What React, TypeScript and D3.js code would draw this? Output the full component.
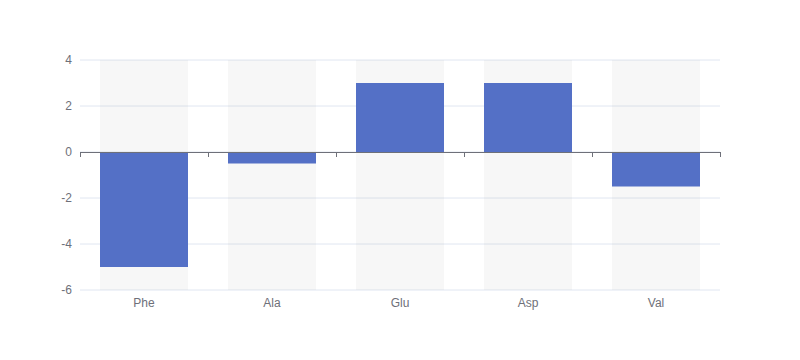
import React from "react";
import * as d3 from "d3";

const categories = ["Phe", "Ala", "Glu", "Asp", "Val"];
const values = [-5, -0.5, 3, 3, -1.5];
const yTicks = [-6, -4, -2, 0, 2, 4];

export default function App() {
  const W = 800, H = 360;
  const left = 80, right = 720, top = 60, bottom = 290;
  const x = d3.scaleBand<string>().domain(categories).range([left, right])
    .paddingInner(40 / 128).paddingOuter(20 / 128);
  const y = d3.scaleLinear().domain([-6, 4]).range([bottom, top]);
  const step = x.step();
  const tickXs = d3.range(categories.length + 1).map(i => left + i * step);
  const font = "sans-serif";
  return (
    <svg width={W} height={H} style={{ position: "absolute", left: 0, top: 0 }}>
      {yTicks.map(t => (
        <line key={"g" + t} x1={left} x2={right} y1={y(t)} y2={y(t)} stroke="#E0E6F1" strokeWidth={1} />
      ))}
      {categories.map(c => (
        <rect key={"bg" + c} x={x(c)} y={top} width={x.bandwidth()} height={bottom - top} fill="rgba(180,180,180,0.1)" />
      ))}
      {categories.map((c, i) => {
        const v = values[i];
        const y0 = y(0), y1 = y(v);
        return (
          <rect key={"b" + c} x={x(c)} y={Math.min(y0, y1)} width={x.bandwidth()} height={Math.abs(y1 - y0)} fill="#5470c6" />
        );
      })}
      <line x1={left} x2={right} y1={y(0) + 0.5} y2={y(0) + 0.5} stroke="#6E7079" strokeWidth={1} />
      {tickXs.map((tx, i) => (
        <line key={"t" + i} x1={Math.round(tx) + 0.5} x2={Math.round(tx) + 0.5} y1={y(0)} y2={y(0) + 5} stroke="#6E7079" strokeWidth={1} />
      ))}
      {yTicks.map(t => (
        <text key={"yl" + t} x={left - 8} y={y(t)} textAnchor="end" dominantBaseline="central" fontSize={12} fontFamily={font} fill="#6E7079">{t}</text>
      ))}
      {categories.map(c => (
        <text key={"xl" + c} x={(x(c) as number) + x.bandwidth() / 2} y={bottom + 8} textAnchor="middle" dominantBaseline="hanging" fontSize={12} fontFamily={font} fill="#6E7079">{c}</text>
      ))}
    </svg>
  );
}
